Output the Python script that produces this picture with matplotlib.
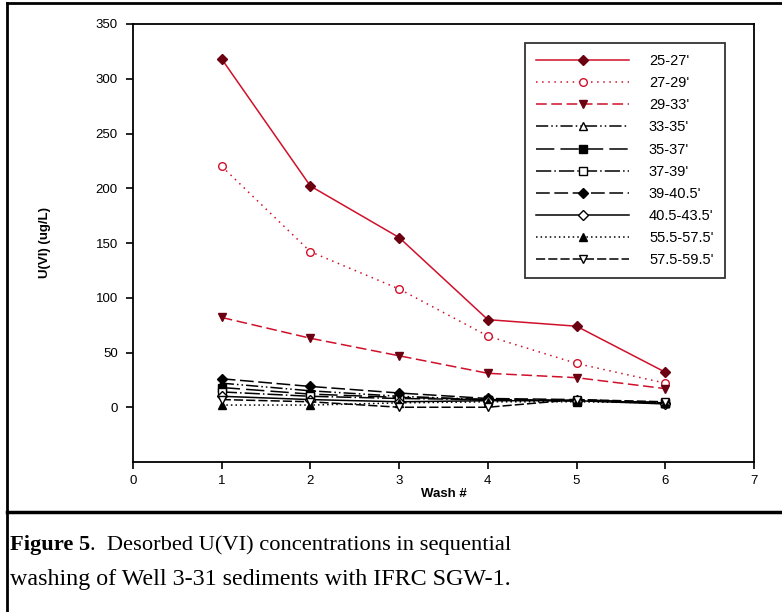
import matplotlib
matplotlib.use("Agg")
import matplotlib.pyplot as plt
from matplotlib.lines import Line2D

wash = [1, 2, 3, 4, 5, 6]
labels = ["25-27'", "27-29'", "29-33'", "33-35'", "35-37'", "37-39'",
          "39-40.5'", "40.5-43.5'", "55.5-57.5'", "57.5-59.5'"]
s25_27 = [318, 202, 155, 80, 74, 32]
s27_29 = [220, 142, 108, 65, 40, 22]
s29_33 = [82, 63, 47, 31, 27, 17]
s33_35 = [22, 15, 10, 7, 6, 4]
s35_37 = [18, 12, 9, 7, 6, 4]
s37_39 = [14, 10, 8, 7, 6, 4]
s39_40 = [26, 19, 13, 8, 7, 4]
s40_43 = [10, 7, 5, 6, 6, 3]
s55_57 = [2, 2, 4, 5, 5, 4]
s57_59 = [7, 5, 0, 0, 7, 5]
series = [s25_27, s27_29, s29_33, s33_35, s35_37, s37_39, s39_40, s40_43, s55_57, s57_59]

red = '#d0102a'
dred = '#6a0010'
styles = [
    dict(color=red, ls='-', marker='D', mfc=dred, mec=dred),
    dict(color=red, ls=(0, (1, 3)), marker='o', mfc='white', mec=red),
    dict(color=red, ls=(0, (7, 3)), marker='v', mfc=dred, mec=dred),
    dict(color='black', ls=(0, (8, 2, 1, 2, 1, 2)), marker='^', mfc='white', mec='black'),
    dict(color='black', ls=(0, (12, 4)), marker='s', mfc='black', mec='black'),
    dict(color='black', ls=(0, (10, 2, 1, 2)), marker='s', mfc='white', mec='black'),
    dict(color='black', ls=(0, (9, 3)), marker='D', mfc='black', mec='black'),
    dict(color='black', ls='-', marker='D', mfc='white', mec='black'),
    dict(color='black', ls=(0, (1, 2)), marker='^', mfc='black', mec='black'),
    dict(color='black', ls=(0, (6, 2)), marker='v', mfc='white', mec='black'),
]

plt.rcParams['font.family'] = ['Liberation Sans', 'DejaVu Sans']
fig = plt.figure(figsize=(7.82, 6.12), dpi=100)
ax = fig.add_axes([133/782, 1-462/612, (754-133)/782, (462-24)/612])

for vals, lab, st in zip(series, labels, styles):
    ax.plot(wash, vals, label=lab, lw=1.1, ms=5.5, mew=1.0, **st)

ax.set_xlim(0, 7)
ax.set_ylim(-50, 350)
ax.set_xticks(range(0, 8))
ax.set_yticks(range(0, 351, 50))
ax.tick_params(axis='y', labelsize=9.5, direction='out', length=5, width=1.2, pad=6, right=False)
ax.tick_params(axis='x', labelsize=9.5, direction='out', length=5, width=1.2, pad=4, top=False)
for sp in ax.spines.values():
    sp.set_linewidth(1.3)
ax.set_xlabel('Wash #', fontsize=9.5, fontweight='bold', labelpad=1)
ax.set_ylabel('U(VI) (ug/L)', fontsize=9.5, fontweight='bold', labelpad=32)

ax_w = 754 - 133
ax_h = 462 - 24
leg = ax.legend(loc='upper left', bbox_to_anchor=((525-133)/ax_w, 1-(43-24)/ax_h),
                fontsize=10.5, handlelength=6.4, labelspacing=0.56, frameon=True,
                fancybox=False, edgecolor='black', borderpad=0.75, handletextpad=1.35,
                borderaxespad=0)
leg.get_frame().set_linewidth(1.3)

# figure frame and caption
fig.add_artist(Line2D([7/782, 7/782], [0, 1-3/612], color='black', lw=2, transform=fig.transFigure))
fig.add_artist(Line2D([7/782, 1], [1-3/612, 1-3/612], color='black', lw=2, transform=fig.transFigure))
fig.add_artist(Line2D([7/782, 1], [1-512/612, 1-512/612], color='black', lw=2.5, transform=fig.transFigure))

fs1 = 16.2
fs2 = 17.3
t1 = fig.text(10/782, 1-545/612, 'Figure 5', fontsize=fs1, family='Liberation Serif',
              va='center', fontweight='bold')
fig.canvas.draw()
bb = t1.get_window_extent()
fig.text(bb.x1/782, 1-545/612, '.  Desorbed U(VI) concentrations in sequential', fontsize=fs1,
         family='Liberation Serif', va='center')
fig.text(10/782, 1-580/612, 'washing of Well 3-31 sediments with IFRC SGW-1.', fontsize=fs2,
         family='Liberation Serif', va='center')

fig.savefig('out.png', dpi=100)
